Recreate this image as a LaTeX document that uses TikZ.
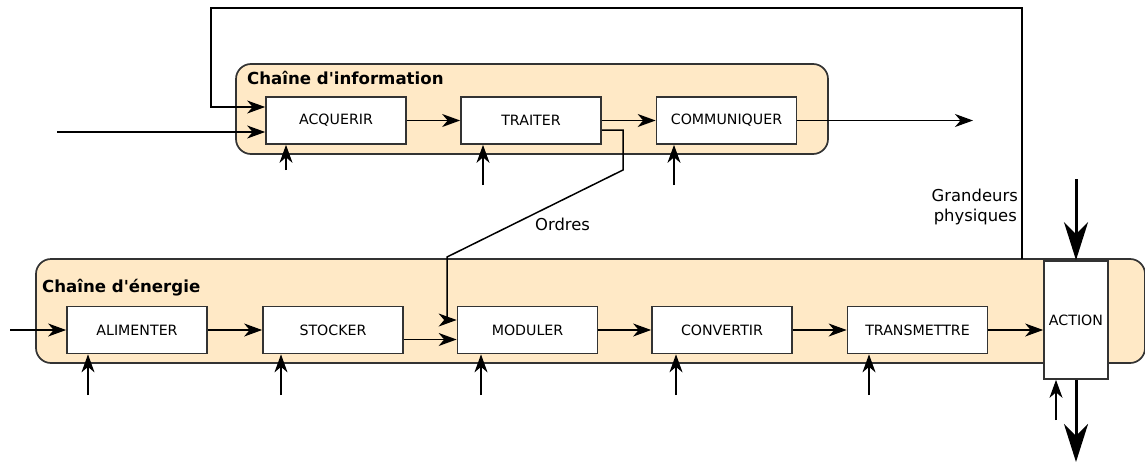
\documentclass[tikz,border=0pt]{standalone}
\usepackage{fontspec}
\setmainfont{DejaVu Sans}[Ligatures=TeXOff]
\usetikzlibrary{arrows.meta}
\definecolor{chainfill}{HTML}{FFE9C6}
\definecolor{edge}{HTML}{333333}

\begin{document}
\begin{tikzpicture}[x=1pt,y=-1pt,
  chain/.style={draw=edge,fill=chainfill,line width=1.7pt,rounded corners=15pt,inner sep=0pt},
  block/.style={draw=edge,fill=white,line width=1.7pt,minimum width=140pt,minimum height=47pt,inner sep=0pt,font=\fontsize{14.2}{17}\selectfont},
  title/.style={font=\fontsize{16.6}{20}\selectfont\bfseries,anchor=base west,inner sep=0pt},
  lbl/.style={font=\fontsize{16.4}{20}\selectfont,inner sep=0pt},
  link/.style={line width=1.5pt,-{Stealth[length=18pt,width=13pt,inset=5.5pt]}},
  bigarrow/.style={line width=3pt,-{Stealth[length=38pt,width=24pt,inset=12pt]}}]

\useasboundingbox (0,0) rectangle (1145,463);

% containers
\node[chain,minimum width=592pt,minimum height=90pt] (info) at (532,109) {};
\node[chain,minimum width=1109pt,minimum height=104pt] (ener) at (590.5,311) {};
\node[title] (tinfo) at (247,84) {Chaîne d'information};
\node[title] (tener) at (42,292) {Chaîne d'énergie};

% information chain
\node[block] (aq) at (336,120.5) {ACQUERIR};
\node[block] (tr) at (531,120.5) {TRAITER};
\node[block] (cm) at (726.5,120.5) {COMMUNIQUER};

% energy chain
\node[block] (al) at (137,330) {ALIMENTER};
\node[block] (st) at (333,330) {STOCKER};
\node[block] (mo) at (527.5,330) {MODULER};
\node[block] (cv) at (722,330) {CONVERTIR};
\node[block] (tm) at (917.5,330) {TRANSMETTRE};
\node[block,minimum width=64pt,minimum height=118pt] (ac) at (1076,320) {ACTION};

% information flow
\coordinate (inA) at (57,132);
\draw[link] (inA) -- (inA -| aq.west);
\draw[link] (aq) -- (tr);
\draw[link] (tr) -- (cm);
\coordinate (cmout) at (973,120.5);
\draw[link] (cm) -- (cmout);

% physical quantities fed back to acquisition
\coordinate (fb0) at (1022,259);
\coordinate (fb1) at (1022,8);
\coordinate (fb2) at (211,8);
\coordinate (fb3) at (211,107);
\draw[link] (fb0) -- (fb1) -- (fb2) -- (fb3) -- (fb3 -| aq.west);

% orders to the modulator
\coordinate (o0) at (623,130);
\coordinate (o1) at (623,170);
\coordinate (o2) at (447,257);
\coordinate (o3) at (447,320);
\draw[link] (tr.east |- o0) -- (o0) -- (o1) -- (o2) -- (o3) -- (o3 -| mo.west);

% energy flow
\coordinate (inE) at (10,330);
\draw[link] (inE) -- (inE -| al.west);
\draw[link] (al) -- (st);
\draw[link] ([yshift=-9.5pt]st.east) -- ([yshift=-9.5pt]st.east -| mo.west);
\draw[link] (mo) -- (cv);
\draw[link] (cv) -- (tm);
\draw[link] (tm.east) -- (tm.east -| ac.west);

% side inputs
\coordinate (ia) at (286,170);
\coordinate (it) at (483,185);
\coordinate (ic) at (674,185);
\draw[link] (ia) -- (ia |- aq.south);
\draw[link] (it) -- (it |- tr.south);
\draw[link] (ic) -- (ic |- cm.south);
\coordinate (ial) at (88,395);
\coordinate (ist) at (281,395);
\coordinate (imo) at (481,395);
\coordinate (icv) at (676,395);
\coordinate (itm) at (869,395);
\coordinate (iac) at (1056,420);
\draw[link] (ial) -- (ial |- al.south);
\draw[link] (ist) -- (ist |- st.south);
\draw[link] (imo) -- (imo |- mo.south);
\draw[link] (icv) -- (icv |- cv.south);
\draw[link] (itm) -- (itm |- tm.south);
\draw[link] (iac) -- (iac |- ac.south);

% matter through the action
\coordinate (actin) at (1076,179);
\coordinate (actout) at (1076,462);
\draw[bigarrow] (actin) -- (ac.north);
\draw[bigarrow] (ac.south) -- (actout);

% labels
\node[lbl,anchor=base west] (ordres) at (535,230) {Ordres};
\node[lbl,anchor=base east] (gr1) at (1018,201) {Grandeurs};
\node[lbl,anchor=base east] (gr2) at (1017,221) {physiques};
\end{tikzpicture}
\end{document}
